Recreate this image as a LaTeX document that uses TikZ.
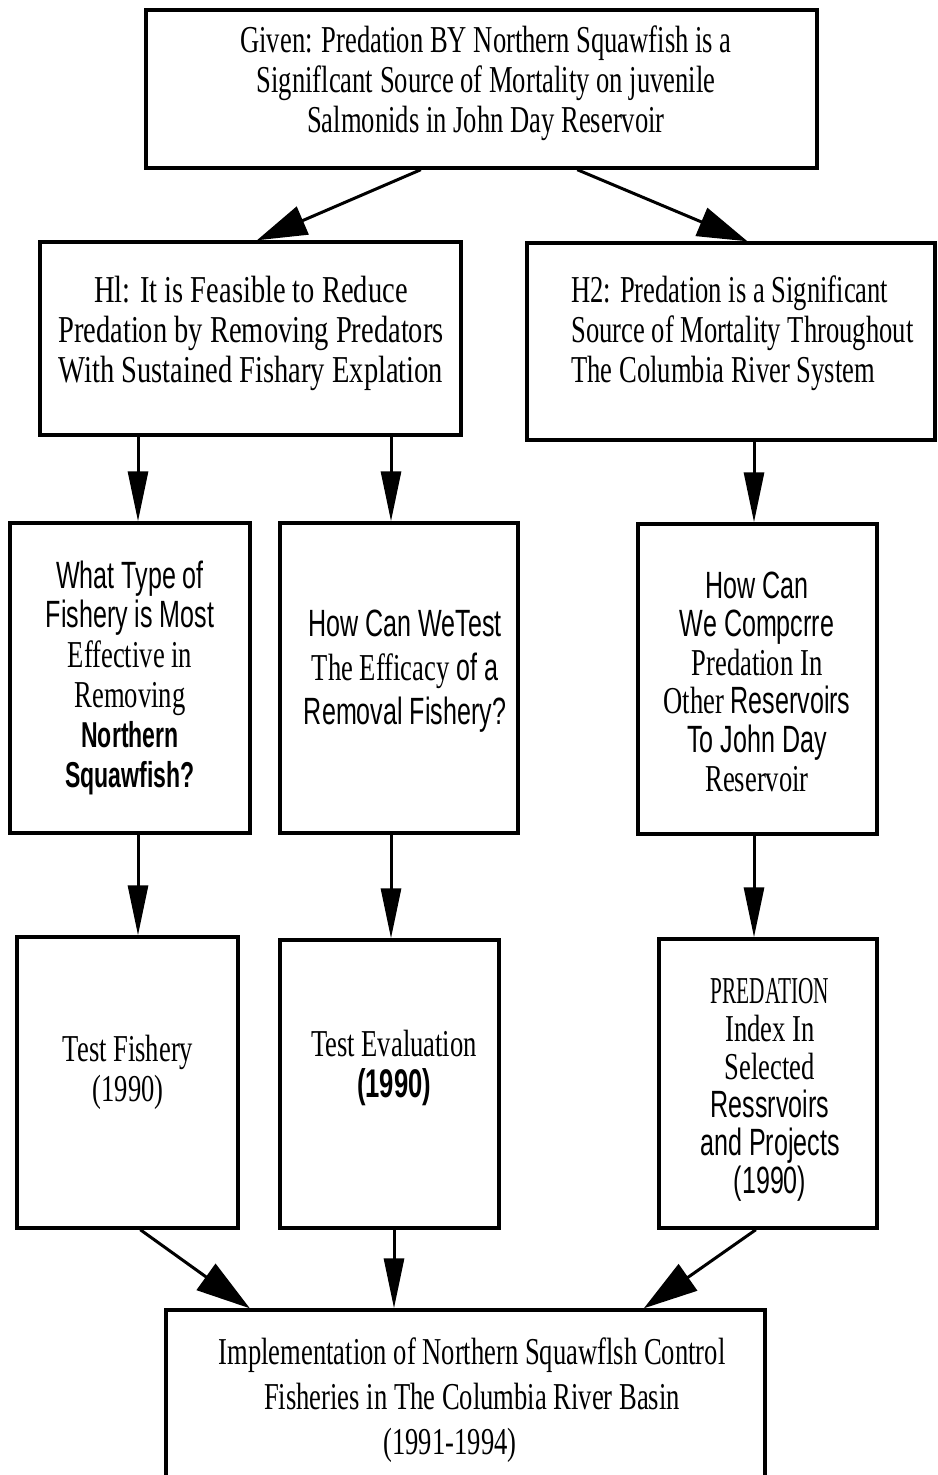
\documentclass[tikz,border=0pt]{standalone}
\usepackage{fontspec}
\setmainfont{Liberation Serif}[FakeStretch=0.70]
\newfontfamily\serifwide{Liberation Serif}[FakeStretch=0.75]
\newfontfamily\serifnarrow{Liberation Serif}[FakeStretch=0.56]
\newfontfamily\sansc{Liberation Sans}[FakeStretch=0.66]
\newfontfamily\sansbold{Liberation Sans}[FakeStretch=0.64]
\usetikzlibrary{arrows.meta,calc}
\tikzset{
  box/.style={draw, line width=1.7pt, inner sep=0pt},
  txt/.style={align=center, inner sep=0pt},
  diagarrow/.style={line width=1.5pt, -{Triangle[length=25pt,width=15pt]}},
  vertarrow/.style={line width=1.5pt, -{Triangle[length=25pt,width=10pt]}},
  botarrow/.style={line width=1.5pt, -{Triangle[length=27pt,width=16pt]}},
}
\begin{document}
\begin{tikzpicture}[x=0.5pt,y=-0.5pt]
\useasboundingbox (0,0) rectangle (937,1475);
% boxes
\node[box, minimum width=335.5pt, minimum height=79pt] (top) at (481.5,89) {};
\node[box, minimum width=210.5pt, minimum height=96.5pt] (h1) at (250.5,338.5) {};
\node[box, minimum width=204pt, minimum height=98.5pt] (h2) at (731,341.5) {};
\node[box, minimum width=120pt, minimum height=155pt] (qa) at (130,678) {};
\node[box, minimum width=119pt, minimum height=155pt] (qb) at (399,678) {};
\node[box, minimum width=119.5pt, minimum height=155pt] (qc) at (757.5,679) {};
\node[box, minimum width=110.5pt, minimum height=145.5pt] (ta) at (127.5,1082.5) {};
\node[box, minimum width=109.5pt, minimum height=144pt] (tb) at (389.5,1084) {};
\node[box, minimum width=109pt, minimum height=144.5pt] (tc) at (768,1083.5) {};
\node[box, minimum width=299.5pt, minimum height=90pt] (impl) at (465.5,1400) {};
% texts
\node[txt, font=\fontsize{19}{20}\selectfont] (ttop) at (486,83)
  {Given: Predation BY Northern Squawfish is a\\Signiflcant Source of Mortality on juvenile\\Salmonids in John Day Reservoir};
\node[txt, font=\serifwide\fontsize{19}{20}\selectfont] (th1) at (251,333)
  {Hl: It is Feasible to Reduce\\Predation by Removing Predators\\With Sustained Fishary Explation};
\node[txt, align=left, anchor=west, font=\fontsize{19}{20}\selectfont] (th2) at (571,333)
  {H2: Predation is a Significant\\Source of Mortality Throughout\\The Columbia River System};
\node[txt, font=\fontsize{19}{19.9}\selectfont] (tqa) at (130,677.5)
  {{\sansc What Type of}\\{\sansc Fishery is Most}\\Effective in\\Removing\\{\sansbold\bfseries\fontsize{18}{19.9}\selectfont Northern}\\{\sansbold\bfseries\fontsize{18}{19.9}\selectfont Squawfish?}};
\node[txt, font=\fontsize{19}{22}\selectfont] (tqb) at (405,671)
  {{\sansc How Can WeTest}\\The Efficacy {\sansc of a}\\{\sansc Removal Fishery?}};
\node[txt, font=\fontsize{19}{19.3}\selectfont] (tqc) at (757,681.5)
  {{\sansc How Can}\\{\sansc We Compcrre}\\Predation In\\Other {\sansc Reservoirs}\\{\sansc To John Day}\\Reservoir};
\node[txt, font=\fontsize{19}{20}\selectfont] (tta) at (128,1072)
  {Test Fishery\\(1990)};
\node[txt, font=\fontsize{19}{20.5}\selectfont] (ttb) at (394,1067.5)
  {Test Evaluation\\{\sansbold\bfseries\fontsize{20}{20.5}\selectfont (1990)}};
\node[txt, font=\fontsize{19}{19}\selectfont] (ttc) at (770,1090)
  {{\serifnarrow PREDATION}\\Index In\\Selected\\{\sansc Ressrvoirs}\\{\sansc and Projects}\\{\sansc (1990)}};
\node[txt, font=\fontsize{19}{22.5}\selectfont] (timpl) at (472,1400)
  {Implementation of Northern Squawflsh Control\\Fisheries in The Columbia River Basin\\(1991-1994)\hspace*{22pt}};
% column coordinates
\coordinate (c1) at (138,0);
\coordinate (c2) at (391,0);
\coordinate (c3) at (754,0);
\coordinate (c4) at (394,0);
% arrows
\draw[diagarrow] ($(top.south west)!0.41!(top.south east)$) -- ($(h1.north west)!0.515!(h1.north east)$);
\draw[diagarrow] ($(top.south west)!0.642!(top.south east)$) -- ($(h2.north west)!0.54!(h2.north east)$);
\draw[vertarrow] (h1.south -| c1) -- (qa.north -| c1);
\draw[vertarrow] (h1.south -| c2) -- (qb.north -| c2);
\draw[vertarrow] (h2.south -| c3) -- (qc.north -| c3);
\draw[vertarrow] (qa.south -| c1) -- (ta.north -| c1);
\draw[vertarrow] (qb.south -| c2) -- (tb.north -| c2);
\draw[vertarrow] (qc.south -| c3) -- (tc.north -| c3);
\draw[botarrow] ($(ta.south west)!0.557!(ta.south east)$) -- ($(impl.north west)!0.142!(impl.north east)$);
\draw[vertarrow] (tb.south -| c4) -- (impl.north -| c4);
\draw[botarrow] ($(tc.south west)!0.445!(tc.south east)$) -- ($(impl.north west)!0.796!(impl.north east)$);
\end{tikzpicture}
\end{document}
